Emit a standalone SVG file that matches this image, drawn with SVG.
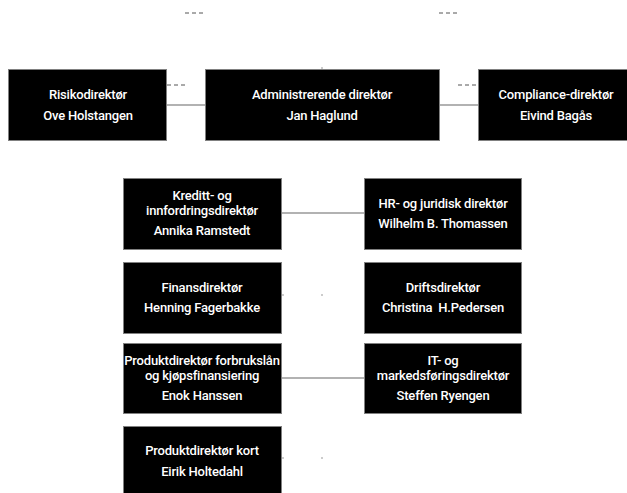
<svg xmlns="http://www.w3.org/2000/svg" width="627" height="493" viewBox="0 0 627 493">
<style>
.box{fill:#000;stroke:#808080;stroke-width:1}
.t{font-family:Roboto,"Liberation Sans",sans-serif;font-size:13px;font-weight:500;letter-spacing:-0.2px;fill:#fff;text-anchor:middle;white-space:pre}
.solid{stroke:#666;stroke-width:1.2;fill:none}
.dash{stroke:#555;stroke-width:1;stroke-dasharray:4 3;fill:none}
.tick{stroke:#999;stroke-width:1;fill:none}
</style>
<rect width="627" height="493" fill="#fff"/>
<g id="connectors">
<line class="dash" x1="185" y1="13" x2="205" y2="13"/>
<line class="dash" x1="439" y1="13" x2="458" y2="13"/>
<line class="dash" x1="167" y1="85" x2="187" y2="85"/>
<line class="dash" x1="458" y1="85" x2="478" y2="85"/>
<line class="solid" x1="167" y1="105" x2="205" y2="105"/>
<line class="solid" x1="440" y1="105" x2="478" y2="105"/>
<line class="tick" x1="322" y1="67" x2="322" y2="69"/>
<line class="solid" x1="282" y1="213" x2="364" y2="213"/>
<line class="tick" x1="282" y1="295" x2="284" y2="295"/>
<line class="tick" x1="321" y1="295" x2="323" y2="295"/>
<line class="solid" x1="282" y1="378" x2="364" y2="378"/>
<line class="tick" x1="282" y1="458" x2="284" y2="458"/>
<line class="tick" x1="321" y1="458" x2="323" y2="458"/>
</g>
<g id="risikodirektor">
<rect class="box" x="8.5" y="69.5" width="158" height="71"/>
<text class="t" x="88" y="99">Risikodirektør</text>
<text class="t" x="88" y="120">Ove Holstangen</text>
</g>
<g id="administrerende-direktor">
<rect class="box" x="205.5" y="69.5" width="234" height="71"/>
<text class="t" x="322" y="99">Administrerende direktør</text>
<text class="t" x="322" y="120">Jan Haglund</text>
</g>
<g id="compliance-direktor">
<rect class="box" x="478.5" y="69.5" width="156" height="71"/>
<text class="t" x="556" y="99">Compliance-direktør</text>
<text class="t" x="556" y="120">Eivind Bagås</text>
</g>
<g id="kreditt">
<rect class="box" x="123.5" y="178.5" width="158" height="71"/>
<text class="t" x="202" y="200">Kreditt- og</text>
<text class="t" x="202" y="215">innfordringsdirektør</text>
<text class="t" x="202" y="235">Annika Ramstedt</text>
</g>
<g id="hr">
<rect class="box" x="364.5" y="178.5" width="157" height="71"/>
<text class="t" x="443" y="208">HR- og juridisk direktør</text>
<text class="t" x="443" y="228">Wilhelm B. Thomassen</text>
</g>
<g id="finans">
<rect class="box" x="123.5" y="262.5" width="158" height="71"/>
<text class="t" x="202" y="292">Finansdirektør</text>
<text class="t" x="202" y="312">Henning Fagerbakke</text>
</g>
<g id="drift">
<rect class="box" x="364.5" y="262.5" width="157" height="71"/>
<text class="t" x="443" y="292">Driftsdirektør</text>
<text class="t" x="443" y="312" xml:space="preserve">Christina  H.Pedersen</text>
</g>
<g id="produkt-forbrukslan">
<rect class="box" x="123.5" y="343.5" width="158" height="70"/>
<text class="t" x="202" y="365">Produktdirektør forbrukslån</text>
<text class="t" x="202" y="380">og kjøpsfinansiering</text>
<text class="t" x="202" y="400">Enok Hanssen</text>
</g>
<g id="it">
<rect class="box" x="364.5" y="343.5" width="157" height="70"/>
<text class="t" x="443" y="365">IT- og</text>
<text class="t" x="443" y="380">markedsføringsdirektør</text>
<text class="t" x="443" y="400">Steffen Ryengen</text>
</g>
<g id="produkt-kort">
<rect class="box" x="123.5" y="426.5" width="158" height="70"/>
<text class="t" x="202" y="455">Produktdirektør kort</text>
<text class="t" x="202" y="476">Eirik Holtedahl</text>
</g>
</svg>
